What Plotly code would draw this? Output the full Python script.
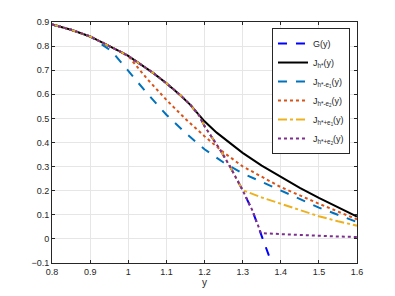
import plotly.graph_objects as go

# Shared upper curve (J_h*, and start of all others)
main_x = [0.80, 0.85, 0.90, 0.95, 0.979, 1.00, 1.032, 1.066, 1.10, 1.136, 1.163, 1.185]
main_y = [0.890, 0.868, 0.840, 0.802, 0.777, 0.759, 0.726, 0.688, 0.646, 0.597, 0.556, 0.514]

# G(y) beyond the shared part
g_tail_x = [1.20, 1.215, 1.241, 1.267, 1.30, 1.325, 1.348, 1.376]
g_tail_y = [0.468, 0.432, 0.370, 0.300, 0.202, 0.120, 0.024, -0.100]
g_x = main_x + g_tail_x
g_y = main_y + g_tail_y

# J_h*(y)
j_x = main_x + [1.20, 1.232, 1.27, 1.30, 1.35, 1.40, 1.45, 1.50, 1.55, 1.60]
j_y = main_y + [0.488, 0.441, 0.392, 0.357, 0.304, 0.258, 0.212, 0.170, 0.130, 0.093]

# J_h*-e1(y)
m1_x = [0.80, 0.85, 0.90, 0.955, 0.979, 1.00, 1.05, 1.10, 1.15, 1.20, 1.25, 1.30, 1.40, 1.50, 1.60]
m1_y = [0.890, 0.868, 0.840, 0.781, 0.737, 0.697, 0.603, 0.515, 0.440, 0.372, 0.317, 0.272, 0.200, 0.130, 0.070]

# J_h*-e2(y)
m2_x = [0.80, 0.85, 0.90, 0.95, 0.979, 1.00, 1.05, 1.10, 1.15, 1.20, 1.25, 1.30, 1.40, 1.50, 1.60]
m2_y = [0.890, 0.868, 0.840, 0.802, 0.777, 0.759, 0.663, 0.577, 0.498, 0.426, 0.359, 0.301, 0.215, 0.146, 0.081]

# J_h*+e1(y): follows G up to y=1.30
p1_x = main_x + g_tail_x[:5] + [1.35, 1.40, 1.45, 1.50, 1.55, 1.60]
p1_y = main_y + g_tail_y[:5] + [0.172, 0.146, 0.119, 0.094, 0.073, 0.055]

# J_h*+e2(y): follows G up to y=1.348
p2_x = main_x + g_tail_x[:7] + [1.40, 1.45, 1.50, 1.55, 1.60]
p2_y = main_y + g_tail_y[:7] + [0.020, 0.016, 0.013, 0.010, 0.008]

FONT = "Liberation Sans"
TXT = "#262626"

fig = go.Figure()
fig.add_trace(go.Scatter(x=g_x, y=g_y, mode="lines", name="G(y)",
                         line=dict(color="#0000FF", width=2, dash="dash")))
fig.add_trace(go.Scatter(x=j_x, y=j_y, mode="lines", name="J<sub>h*</sub>(y)",
                         line=dict(color="#000000", width=2)))
fig.add_trace(go.Scatter(x=m1_x, y=m1_y, mode="lines", name="J<sub>h*-e<sub>1</sub></sub>(y)",
                         line=dict(color="#0072BD", width=2, dash="dash")))
fig.add_trace(go.Scatter(x=m2_x, y=m2_y, mode="lines", name="J<sub>h*-e<sub>2</sub></sub>(y)",
                         line=dict(color="#D95319", width=2, dash="dot")))
fig.add_trace(go.Scatter(x=p1_x, y=p1_y, mode="lines", name="J<sub>h*+e<sub>1</sub></sub>(y)",
                         line=dict(color="#EDB120", width=2, dash="dashdot")))
fig.add_trace(go.Scatter(x=p2_x, y=p2_y, mode="lines", name="J<sub>h*+e<sub>2</sub></sub>(y)",
                         line=dict(color="#7E2F8E", width=2, dash="dot")))

axis_common = dict(showgrid=True, gridcolor="#e6e6e6", gridwidth=1,
                   showline=True, linecolor=TXT, linewidth=1,
                   mirror="allticks", ticks="inside", ticklen=3, tickcolor=TXT,
                   zeroline=False, automargin=False,
                   tickfont=dict(family=FONT, size=9, color=TXT))

fig.update_xaxes(range=[0.8, 1.6], dtick=0.1, tickformat="~g",
                 title=dict(text="y", font=dict(family=FONT, size=10, color=TXT), standoff=3),
                 **axis_common)
fig.update_yaxes(range=[-0.1, 0.9], dtick=0.1, tickformat="~g", **axis_common)

# page body adds an 8px margin, so the figure is sized to fit inside the window
fig.update_layout(
    width=379, height=280,
    margin=dict(l=43.5, r=30, t=14, b=24.7, autoexpand=False),
    paper_bgcolor="white", plot_bgcolor="white",
    font=dict(family=FONT, size=9, color=TXT),
    showlegend=True,
    legend=dict(x=0.977, y=0.975, xanchor="right", yanchor="top",
                bgcolor="white", bordercolor=TXT, borderwidth=1,
                font=dict(family=FONT, size=9, color=TXT),
                tracegroupgap=0, itemwidth=30),
)

fig.write_html("out.html")
